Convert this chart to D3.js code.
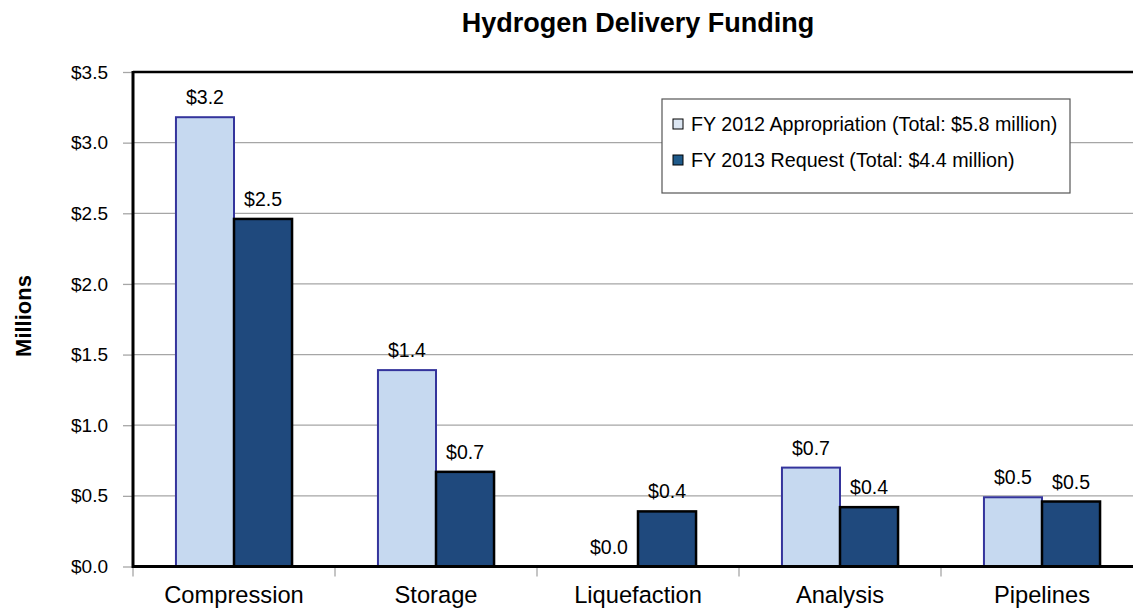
<!DOCTYPE html>
<html lang="en">
<head>
<meta charset="UTF-8">
<script src="https://cdn.jsdelivr.net/npm/d3@7"></script>
<title>Hydrogen Delivery Funding</title>
<style>
  body { margin: 0; background: #fff; }
  svg text { font-family: "Liberation Sans", Arial, sans-serif; fill: #000; }
</style>
</head>
<body>
<script>
// data (millions of dollars)
const categories = ["Compression", "Storage", "Liquefaction", "Analysis", "Pipelines"];
const seriesNames = ["FY 2012 Appropriation (Total: $5.8 million)", "FY 2013 Request (Total: $4.4 million)"];
const fy2012 = [3.18, 1.39, 0.0, 0.70, 0.49];
const fy2013 = [2.46, 0.67, 0.39, 0.42, 0.46];
const yTicks = [0, 0.5, 1.0, 1.5, 2.0, 2.5, 3.0, 3.5];

const width = 1133, height = 609;
const margin = {left: 133, right: -10, top: 72, bottom: 42};

const svg = d3.select("body").append("svg")
  .attr("width", width)
  .attr("height", height);

const x = d3.scaleBand()
  .domain(categories)
  .range([margin.left, width - margin.right])
  .paddingInner(0)
  .paddingOuter(0);

const inner = d3.scaleBand()
  .domain([0, 1])
  .range([0, x.bandwidth()])
  .paddingInner(0)
  .paddingOuter(0.74);

const y = d3.scaleLinear()
  .domain([0, 3.5])
  .range([height - margin.bottom - 0.5, margin.top]);

const colors = ["#c6d9f0", "#1f497d"];
const strokes = ["#34349c", "#000"];

// gridlines
svg.append("g")
  .selectAll("line")
  .data(yTicks.slice(1))
  .enter().append("line")
  .attr("x1", margin.left)
  .attr("x2", width)
  .attr("y1", d => y(d))
  .attr("y2", d => y(d))
  .attr("stroke", "#a6a6a6")
  .attr("stroke-width", 1.3);

// y axis labels + ticks
const yAxis = svg.append("g").attr("transform", `translate(${margin.left},0)`)
  .call(d3.axisLeft(y).tickValues(yTicks).tickSize(10).tickFormat(d => "$" + d3.format(".1f")(d)));
yAxis.select(".domain").remove();
yAxis.selectAll(".tick line").attr("stroke", "#a6a6a6").attr("stroke-width", 1.3);
yAxis.selectAll(".tick text")
  .attr("x", -25)
  .style("font-size", "19px")
  .style("font-family", "Liberation Sans, Arial, sans-serif");

// bars
const data = categories.map((c, i) => ({cat: c, vals: [fy2012[i], fy2013[i]]}));
const groups = svg.append("g").selectAll("g")
  .data(data)
  .enter().append("g")
  .attr("transform", d => `translate(${x(d.cat)},0)`);

groups.selectAll("rect")
  .data(d => d.vals.map((v, s) => ({v, s})))
  .enter().append("rect")
  .filter(d => d.v > 0)
  .attr("x", d => inner(d.s))
  .attr("width", inner.bandwidth())
  .attr("y", d => y(d.v))
  .attr("height", d => y(0) - y(d.v))
  .attr("fill", d => colors[d.s])
  .attr("stroke", d => strokes[d.s])
  .attr("stroke-width", d => d.s === 0 ? 2 : 2.5);

groups.selectAll("text.val")
  .data(d => d.vals.map((v, s) => ({v, s})))
  .enter().append("text")
  .attr("class", "val")
  .attr("x", d => inner(d.s) + inner.bandwidth() / 2)
  .attr("y", d => y(d.v) - 13)
  .attr("text-anchor", "middle")
  .style("font-size", "19.5px")
  .text(d => "$" + d.v.toFixed(1));

// x axis
const xAxis = svg.append("g").attr("transform", `translate(0,${y(0)})`)
  .call(d3.axisBottom(x).tickSize(0).tickPadding(20));
xAxis.select(".domain").remove();
xAxis.selectAll(".tick text")
  .style("font-size", "23.7px")
  .style("font-family", "Liberation Sans, Arial, sans-serif");

// category separator ticks
svg.append("g").selectAll("line")
  .data(d3.range(categories.length + 1))
  .enter().append("line")
  .attr("x1", i => margin.left + i * x.bandwidth())
  .attr("x2", i => margin.left + i * x.bandwidth())
  .attr("y1", y(0))
  .attr("y2", y(0) + 10)
  .attr("stroke", "#a6a6a6")
  .attr("stroke-width", 1.3);

// plot frame
svg.append("line")
  .attr("x1", margin.left).attr("x2", width)
  .attr("y1", margin.top).attr("y2", margin.top)
  .attr("stroke", "#000").attr("stroke-width", 2.5);
svg.append("line")
  .attr("x1", margin.left).attr("x2", width)
  .attr("y1", y(0)).attr("y2", y(0))
  .attr("stroke", "#000").attr("stroke-width", 3);
svg.append("line")
  .attr("x1", margin.left).attr("x2", margin.left)
  .attr("y1", margin.top - 1).attr("y2", y(0) + 1.5)
  .attr("stroke", "#000").attr("stroke-width", 3);

// legend
const legend = svg.append("g").attr("transform", "translate(662,99)");
legend.append("rect")
  .attr("width", 408).attr("height", 94)
  .attr("fill", "#fff").attr("stroke", "#555").attr("stroke-width", 1.2);
seriesNames.forEach((name, i) => {
  legend.append("rect")
    .attr("x", 11).attr("y", 20 + i * 36)
    .attr("width", 10).attr("height", 10)
    .attr("fill", i === 0 ? "#dce6f2" : "#1f5a8a")
    .attr("stroke", "#000").attr("stroke-width", 1);
  legend.append("text")
    .attr("x", 29).attr("y", 32 + i * 36)
    .style("font-size", "19.7px")
    .text(name);
});

// title
svg.append("text")
  .attr("x", 638).attr("y", 32)
  .attr("text-anchor", "middle")
  .style("font-size", "27px")
  .style("font-weight", "bold")
  .text("Hydrogen Delivery Funding");

svg.append("text")
  .attr("transform", "translate(31,316) rotate(-90)")
  .attr("text-anchor", "middle")
  .style("font-size", "22px")
  .style("font-weight", "bold")
  .text("Millions");
</script>
</body>
</html>
